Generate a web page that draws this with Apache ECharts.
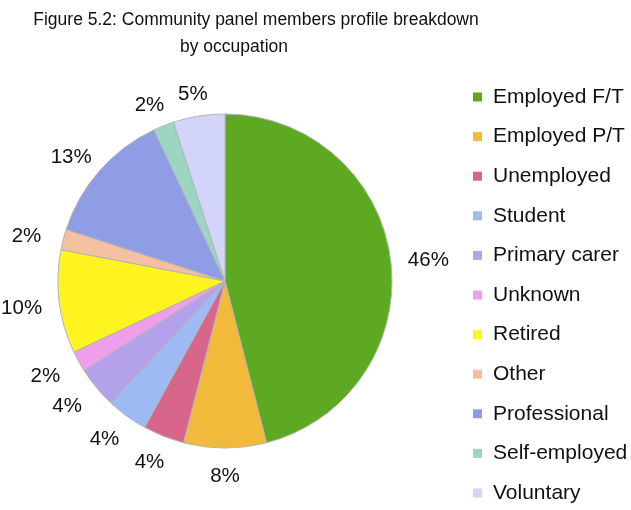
<!DOCTYPE html>
<html>
<head>
<meta charset="utf-8">
<style>
  html, body { margin: 0; padding: 0; background: #ffffff; }
  #chart { width: 631px; height: 510px; }
</style>
<script src="https://cdn.jsdelivr.net/npm/echarts@6/dist/echarts.min.js"></script>
</head>
<body>
<div id="chart"></div>
<script>
// Occupation categories, in clockwise order from 12 o'clock
const categories = [
  'Employed F/T', 'Employed P/T', 'Unemployed', 'Student', 'Primary carer',
  'Unknown', 'Retired', 'Other', 'Professional', 'Self-employed', 'Voluntary'
];
// Share of panel members (%)
const shares = [46, 8, 4, 4, 4, 2, 10, 2, 13, 2, 5];
// Slice fills
const sliceColors = [
  '#5daa22', '#f2ba3a', '#d8668a', '#9dbaf4', '#b3a1ec',
  '#ee9eea', '#fff320', '#f4c0a2', '#8e9de6', '#9cd6c2', '#d2d4fa'
];

const font = 'Liberation Sans, Arial, sans-serif';
const pieCenter = [225, 281];
const pieRadius = 167;
// value labels sit on an oval ring around the pie (wider than tall), a touch below its centre
const labelRadiusX = 205;
const labelRadiusY = 192;
const labelRingDrop = 3;

// Mid angle (radians, maths convention) of each slice, starting at 12 o'clock, clockwise
const total = shares.reduce((a, b) => a + b, 0);
const midAngles = [];
let acc = 0;
shares.forEach(v => {
  const frac = (acc + v / 2) / total;
  midAngles.push(Math.PI / 2 - frac * 2 * Math.PI);
  acc += v;
});

const chart = echarts.init(document.getElementById('chart'), null, { renderer: 'canvas' });

chart.setOption({
  backgroundColor: '#ffffff',
  animation: false,
  color: sliceColors,
  title: [
    {
      text: 'Figure 5.2: Community panel members profile breakdown',
      left: 256, top: 11, textAlign: 'center', padding: 0,
      textStyle: { fontFamily: font, fontSize: 17.5, fontWeight: 'normal', color: '#111' }
    },
    {
      text: 'by occupation',
      left: 234, top: 38, textAlign: 'center', padding: 0,
      textStyle: { fontFamily: font, fontSize: 17.5, fontWeight: 'normal', color: '#111' }
    }
  ],
  legend: {
    orient: 'vertical',
    left: 473,
    top: 86,
    padding: 0,
    height: 440,
    icon: 'rect',
    itemWidth: 9,
    itemHeight: 9,
    itemGap: 17.6,
    itemStyle: { borderWidth: 0 },
    data: categories,
    textStyle: {
      fontFamily: font, fontSize: 21, color: '#111',
      lineHeight: 22, padding: [0, 0, 0, 6]
    }
  },
  series: [{
    type: 'pie',
    center: pieCenter,
    radius: pieRadius,
    startAngle: 90,
    clockwise: true,
    avoidLabelOverlap: false,
    itemStyle: { borderColor: '#b4b4b4', borderWidth: 1 },
    label: {
      show: true,
      position: 'outside',
      formatter: '{c}%',
      fontFamily: font,
      fontSize: 20.5,
      color: '#111'
    },
    labelLine: { show: false, length: 16, length2: 0 },
    // centre each value label on its slice's bisector, just outside the rim
    labelLayout: function (params) {
      const a = midAngles[params.dataIndex];
      return {
        x: pieCenter[0] + labelRadiusX * Math.cos(a),
        y: pieCenter[1] + labelRingDrop - labelRadiusY * Math.sin(a),
        align: 'center',
        verticalAlign: 'middle'
      };
    },
    emphasis: { disabled: true },
    data: categories.map((name, i) => ({ name: name, value: shares[i] }))
  }]
});
</script>
</body>
</html>
